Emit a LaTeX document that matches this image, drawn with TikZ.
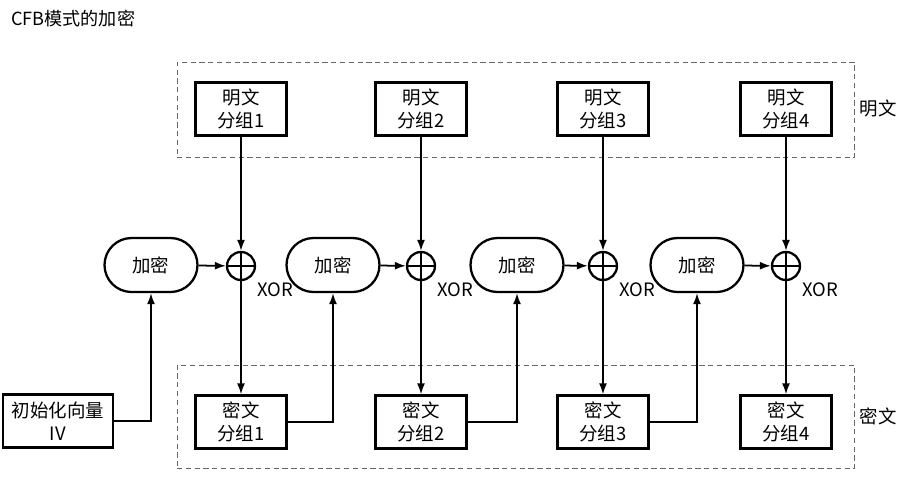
\documentclass[tikz,border=0pt]{standalone}
\usepackage{fontspec}
\setmainfont{Noto Sans CJK SC}
\usetikzlibrary{arrows.meta, positioning}

\begin{document}
\begin{tikzpicture}[x=0.02cm, y=-0.02cm,
  blk/.style={draw, line width=1.3pt, minimum width=1.82cm, minimum height=1.06cm,
              align=center, font=\fontsize{10.5}{13}\selectfont, inner sep=1pt},
  enc/.style={draw, rounded corners=0.54cm, line width=1.3pt, minimum width=1.86cm,
              minimum height=1.08cm, font=\fontsize{10.5}{13}\selectfont},
  xor/.style={draw, circle, line width=1.3pt, minimum size=0.56cm, inner sep=0pt,
              path picture={\draw[line width=1pt]
                (path picture bounding box.north) -- (path picture bounding box.south)
                (path picture bounding box.west) -- (path picture bounding box.east);},
              label={[font=\fontsize{10.5}{13}\selectfont, label distance=4.5pt, inner sep=0pt]below right:XOR}},
  grp/.style={draw, densely dashed, line width=0.5pt, gray!80!black},
  arr/.style={-{Latex[length=2.2mm, width=1.6mm]}, line width=1pt},
  lbl/.style={font=\fontsize{10.5}{13}\selectfont}
]
\useasboundingbox (0,0) rectangle (904,478);

\node[anchor=west, font=\fontsize{10.3}{12}\selectfont] (title) at (5,19) {CFB模式的加密};

\node[grp, minimum width=13.56cm, minimum height=1.9cm] (pgrp) at (516,109.5) {};
\node[grp, minimum width=13.56cm, minimum height=2.06cm] (cgrp) at (516,416.5) {};
\node[lbl] (plbl) at (878,108) {明文};
\node[lbl] (clbl) at (878,416) {密文};

\node[blk] (p1) at (241,109) {明文\\分组1};
\node[blk] (p2) at (421,109) {明文\\分组2};
\node[blk] (p3) at (603,109) {明文\\分组3};
\node[blk] (p4) at (786,109) {明文\\分组4};

\node[enc] (e1) at (151,265) {加密};
\node[enc] (e2) at (333,265) {加密};
\node[enc] (e3) at (517,265) {加密};
\node[enc] (e4) at (697,265) {加密};

\node[xor] (x1) at (241,266) {};
\node[xor] (x2) at (421,266) {};
\node[xor] (x3) at (603,266) {};
\node[xor] (x4) at (786,266) {};

\node[blk] (c1) at (241,422) {密文\\分组1};
\node[blk] (c2) at (421,422) {密文\\分组2};
\node[blk] (c3) at (603,422) {密文\\分组3};
\node[blk] (c4) at (786,422) {密文\\分组4};

\node[blk, minimum width=2.2cm] (iv) at (58,421) {初始化向量\\IV};

\foreach \i in {1,2,3,4} {
  \draw[arr] (p\i) -- (x\i);
  \draw[arr] (x\i) -- (c\i);
  \draw[arr] (e\i) -- (x\i);
}

\draw[arr] (iv.east) -| (e1.south);
\draw[arr] (c1.east) -| (e2.south);
\draw[arr] (c2.east) -| (e3.south);
\draw[arr] (c3.east) -| (e4.south);
\end{tikzpicture}
\end{document}
